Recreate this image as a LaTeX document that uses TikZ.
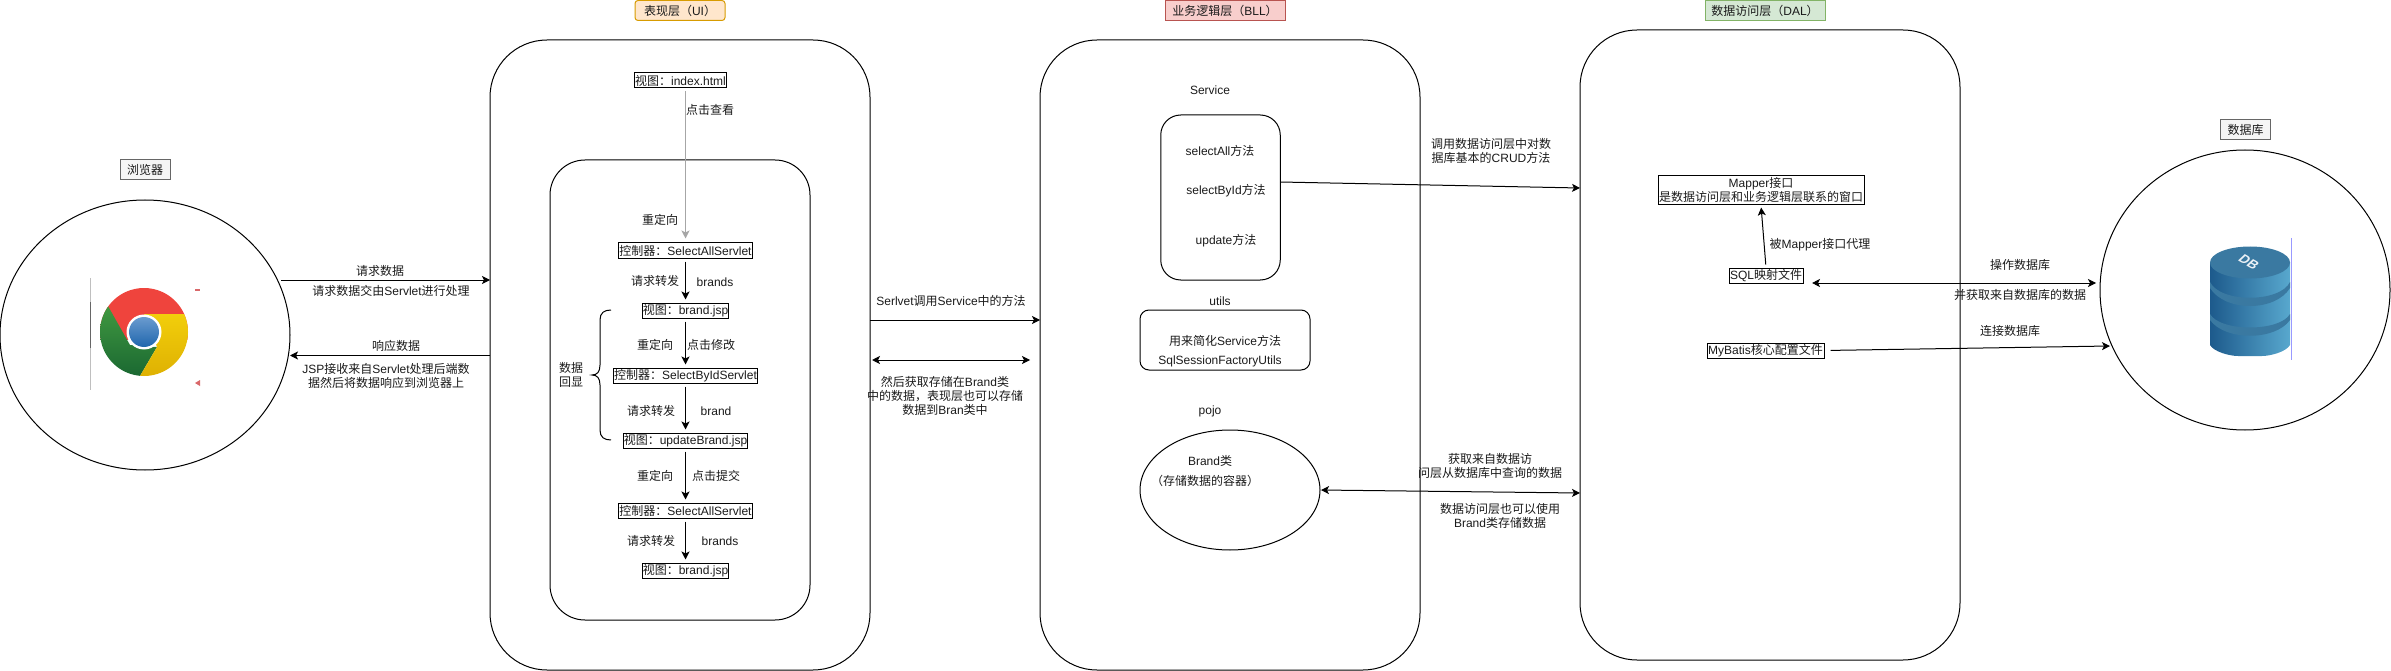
\documentclass[tikz,border=0pt]{standalone}
\usepackage{fontspec}
\setmainfont{Liberation Sans}
\newfontfamily\cjk{Noto Sans CJK SC}
\newcommand{\zh}[1]{{\cjk #1}}
\usepackage{tikz}
\usetikzlibrary{calc}
\usetikzlibrary{arrows.meta}
\usetikzlibrary{shapes.geometric}
\definecolor{uifill}{HTML}{FFE6CC}
\definecolor{uiline}{HTML}{D79B00}
\definecolor{bllfill}{HTML}{F8CECC}
\definecolor{bllline}{HTML}{B85450}
\definecolor{dalfill}{HTML}{D5E8D4}
\definecolor{dalline}{HTML}{82B366}
\definecolor{tagfill}{HTML}{F5F5F5}
\definecolor{tagline}{HTML}{666666}
\definecolor{textcol}{HTML}{1A1A1A}
\definecolor{dbdark}{HTML}{1D5A8C}
\definecolor{dblight}{HTML}{58A8CE}
\definecolor{dbtop}{HTML}{3A79A1}
\definecolor{chromered}{HTML}{EF443D}
\definecolor{chromegreen}{HTML}{4DA945}
\definecolor{chromedark}{HTML}{115C2E}
\definecolor{chromeyellow}{HTML}{F2CE0B}
\definecolor{chromegold}{HTML}{D9A900}
\definecolor{chromeblue}{HTML}{6A9BCF}
\definecolor{chromedeep}{HTML}{1F66AD}
\definecolor{tickred}{HTML}{D9686A}
\tikzset{
  lbl/.style={inner sep=0pt,align=center,text=textcol},
  viewbox/.style={draw,line width=1pt,inner sep=0pt,minimum height=15pt,text=textcol,align=center},
  tagbox/.style={draw,line width=1pt,inner sep=0pt,minimum height=20pt,text=textcol},
  layer/.style={draw,line width=1pt,inner sep=0pt,outer sep=0pt,minimum width=#1},
  round/.style={draw,line width=1pt,ellipse,inner sep=0pt,outer sep=0pt},
  flow/.style={line width=1pt,-{Stealth[length=8pt,width=8pt,inset=2pt]}},
  flowboth/.style={line width=1pt,{Stealth[length=8pt,width=8pt,inset=2pt]}-{Stealth[length=8pt,width=8pt,inset=2pt]}},
}
\begin{document}
\begin{tikzpicture}[x=1pt,y=-1pt,font=\fontsize{12}{14}\selectfont]
\useasboundingbox (0,0) rectangle (2391,671);
\draw (680,355) node[layer=380pt,minimum height=630pt,rounded corners=57pt](uilayer){};
\draw (680,390) node[layer=260pt,minimum height=460pt,rounded corners=35pt](flowarea){};
\draw (1230,355) node[layer=380pt,minimum height=630pt,rounded corners=57pt](blllayer){};
\draw (1770,345) node[layer=380pt,minimum height=630pt,rounded corners=57pt](dallayer){};
\draw (145,335) node[round,minimum width=290pt,minimum height=270pt](browser){};
\draw (2245,290) node[round,minimum width=290pt,minimum height=280pt](database){};

\draw (680,10.5) node[tagbox,minimum width=90pt,draw=uiline,fill=uifill,rounded corners=3pt](uititle){\zh{表现层（}UI\zh{）}};
\draw (1225,10.5) node[tagbox,minimum width=120pt,draw=bllline,fill=bllfill](blltitle){\zh{业务逻辑层（}BLL\zh{）}};
\draw (1765,10.5) node[tagbox,minimum width=120pt,draw=dalline,fill=dalfill](daltitle){\zh{数据访问层（}DAL\zh{）}};
\draw (145,170) node[tagbox,minimum width=50pt,draw=tagline,fill=tagfill](browsertitle){\zh{浏览器}};
\draw (2245.5,130) node[tagbox,minimum width=50pt,draw=tagline,fill=tagfill](dbtitle){\zh{数据库}};

\draw (680.5,80.5) node[viewbox,minimum width=92pt](indexview){\zh{视图：}index.html};
\draw (685.5,250.5) node[viewbox,minimum width=134pt](selectall){\zh{控制器：}SelectAllServlet};
\draw (685.5,310.5) node[viewbox,minimum width=86pt](brandview){\zh{视图：}brand.jsp};
\draw (685.5,375.5) node[viewbox,minimum width=144pt](selectbyid){\zh{控制器：}SelectByIdServlet};
\draw (685.5,440.5) node[viewbox,minimum width=124pt](updateview){\zh{视图：}updateBrand.jsp};
\draw (685.5,510.5) node[viewbox,minimum width=134pt](selectagain){\zh{控制器：}SelectAllServlet};
\draw (685.5,570.5) node[viewbox,minimum width=86pt](brandagain){\zh{视图：}brand.jsp};

\draw[flow,draw=black!35,shorten <=3pt,shorten >=4pt] (selectall.north |- indexview.south) -- (selectall.north);
\draw[flow,shorten <=3pt,shorten >=3pt] (selectall) -- (brandview);
\draw[flow,shorten <=3pt,shorten >=3pt] (brandview) -- (selectbyid);
\draw[flow,shorten <=3pt,shorten >=3pt] (selectbyid) -- (updateview);
\draw[flow,shorten <=3pt,shorten >=3pt] (updateview) -- (selectagain);
\draw[flow,shorten <=3pt,shorten >=3pt] (selectagain) -- (brandagain);

\draw (710,110) node[lbl](clickview){\zh{点击查看}};
\draw (660,220) node[lbl](redirectone){\zh{重定向}};
\draw (655,281) node[lbl](forwardone){\zh{请求转发}};
\draw (715,282) node[lbl](brandsone){brands};
\draw (655,345) node[lbl](redirecttwo){\zh{重定向}};
\draw (711,345) node[lbl](clickedit){\zh{点击修改}};
\draw (651,411) node[lbl](forwardtwo){\zh{请求转发}};
\draw (716,411) node[lbl](brandone){brand};
\draw (655,476) node[lbl](redirectthree){\zh{重定向}};
\draw (716,476) node[lbl](clicksubmit){\zh{点击提交}};
\draw (651,541) node[lbl](forwardthree){\zh{请求转发}};
\draw (720,541) node[lbl](brandstwo){brands};
\draw (571,375) node[lbl](echo){\zh{数据}\\\zh{回显}};
\draw[line width=1pt] (611,310) .. controls (604,310) and (600,313) .. (600,320) -- (600,365) .. controls (600,372) and (597,375) .. (592,375) .. controls (597,375) and (600,378) .. (600,385) -- (600,430) .. controls (600,437) and (604,440) .. (611,440);

\coordinate (reqout) at (281,280);
\coordinate (respin) at (290,355.5);
\draw[flow] (reqout) -- (reqout -| uilayer.west);
\draw[flow] (respin -| uilayer.west) -- (respin);
\draw (380,271) node[lbl](reqlabel){\zh{请求数据}};
\draw (391,291) node[lbl](reqnote){\zh{请求数据交由}Servlet\zh{进行处理}};
\draw (396,346) node[lbl](resplabel){\zh{响应数据}};
\draw (386,376) node[lbl](respnote){JSP\zh{接收来自}Servlet\zh{处理后端数}\\\zh{据然后将数据响应到浏览器上}};

\coordinate (callservice) at (870,320);
\coordinate (storeleft) at (872,360);
\coordinate (storeright) at (1030,360);
\draw[flow] (callservice) -- (callservice -| blllayer.west);
\draw[flowboth] (storeleft) -- (storeright);
\draw (951,301) node[lbl](calllabel){Serlvet\zh{调用}Service\zh{中的方法}};
\draw (945,396) node[lbl](storenote){\zh{然后获取存储在}Brand\zh{类}\\\zh{中的数据，表现层也可以存储}\\\zh{数据到}Bran\zh{类中}};

\draw (1210,90.5) node[lbl](servicelabel){Service};
\draw (1220.5,197.5) node[layer=119.5pt,minimum height=165pt,rounded corners=20pt](servicebox){};
\draw (1220,151) node[lbl](methodall){selectAll\zh{方法}};
\draw (1226,191) node[lbl](methodid){selectById\zh{方法}};
\draw (1226,241) node[lbl](methodup){update\zh{方法}};
\draw (1220,301) node[lbl](utilslabel){utils};
\draw (1225,340) node[layer=170pt,minimum height=60pt,rounded corners=9pt](utilsbox){};
\draw (1225,341) node[lbl](utilsnote){\zh{用来简化}Service\zh{方法}};
\draw (1220,361) node[lbl](utilsname){SqlSessionFactoryUtils};
\draw (1210,411) node[lbl](pojolabel){pojo};
\draw (1230,490) node[round,minimum width=180pt,minimum height=120pt](brandclass){};
\draw (1210,461) node[lbl](brandname){Brand\zh{类}};
\draw (1205,481) node[lbl](brandnote){\zh{（存储数据的容器）}};

\coordinate (serviceout) at (1280,182);
\coordinate (dalin) at (1580,188);
\coordinate (pojoin) at (1580,493);
\draw[flow] (serviceout) -- (dalin);
\draw[flowboth,shorten <=1pt] (brandclass.east) -- (pojoin);
\draw (1491,151) node[lbl](crudnote){\zh{调用数据访问层中对数}\\\zh{据库基本的}CRUD\zh{方法}};
\draw (1490,466) node[lbl](fetchnote){\zh{获取来自数据访}\\\zh{问层从数据库中查询的数据}};
\draw (1500,516) node[lbl](usenote){\zh{数据访问层也可以使用}\\Brand\zh{类存储数据}};

\draw (1761,190.5) node[viewbox,minimum width=206pt,minimum height=29pt](mapper){Mapper\zh{接口}\\\zh{是数据访问层和业务逻辑层联系的窗口}};
\draw (1766,275.5) node[viewbox,minimum width=74pt](sqlmap){SQL\zh{映射文件}};
\draw (1765.5,350.5) node[viewbox,minimum width=117pt](mybatis){MyBatis\zh{核心配置文件}};
\draw[flow,shorten <=3pt,shorten >=2pt] (sqlmap.north) -- (mapper.south);
\draw (1820,245) node[lbl](proxylabel){\zh{被}Mapper\zh{接口代理}};

\coordinate (opnear) at (1812,283);
\coordinate (opfar) at (2096,283);
\coordinate (connin) at (2110,346);
\draw[flowboth] (opnear) -- (opfar);
\draw[flow,shorten <=6pt] (mybatis.east) -- (connin);
\draw (2020,265) node[lbl](oplabel){\zh{操作数据库}};
\draw (2020,295) node[lbl](opnote){\zh{并获取来自数据库的数据}};
\draw (2010,331) node[lbl](connlabel){\zh{连接数据库}};

\draw[black!25,line width=.8pt] (90,278) -- (90,390);
\draw[black!60,line width=.8pt] (90,302) -- (90,348);
\fill[tickred] (195,288.5) rectangle (200,291);
\fill[tickred] (195,383) -- (200,380) -- (200,386) -- cycle;
\begin{scope}
\clip (144,332) circle[radius=44];
\fill[chromered] (100,280) rectangle (190,340);
\shade[top color=chromegreen,middle color=chromegreen,bottom color=chromedark] (95,283) -- (130,345) -- (157,347) -- (130,393) -- (85,393) -- cycle;
\shade[top color=chromeyellow,middle color=chromeyellow,bottom color=chromegold] (144,314) -- (200,314) -- (200,393) -- (130,393) -- (157,347) -- cycle;
\end{scope}
\fill[white] (144,332) circle[radius=17.5];
\shade[top color=chromeblue,bottom color=chromedeep] (144,332) circle[radius=15];

\shade[left color=dbdark,right color=dblight] (2210,262) -- (2210,345) .. controls (2214,352) and (2230,356) .. (2238,356) -- (2262,356) .. controls (2270,356) and (2286,352) .. (2290,345) -- (2290,262) -- cycle;
\fill[dbtop] (2210,288) .. controls (2225,312) and (2275,312) .. (2290,288) -- (2290,282) .. controls (2280,303) and (2220,303) .. (2210,282) -- cycle;
\fill[dbtop] (2210,320) .. controls (2225,341) and (2275,341) .. (2290,320) -- (2290,314) .. controls (2280,332) and (2220,332) .. (2210,314) -- cycle;
\fill[dbtop] (2250,262.5) ellipse[x radius=40,y radius=16];
\draw (2249,262) node[rotate=-30,xslant=.3,transform shape,text=white!90!dbtop,font=\fontsize{13}{13}\selectfont\bfseries,inner sep=0pt](dbmark){DB};
\draw[blue!40!white,line width=.8pt] (2291.5,238) -- (2291.5,360);
\end{tikzpicture}
\end{document}
